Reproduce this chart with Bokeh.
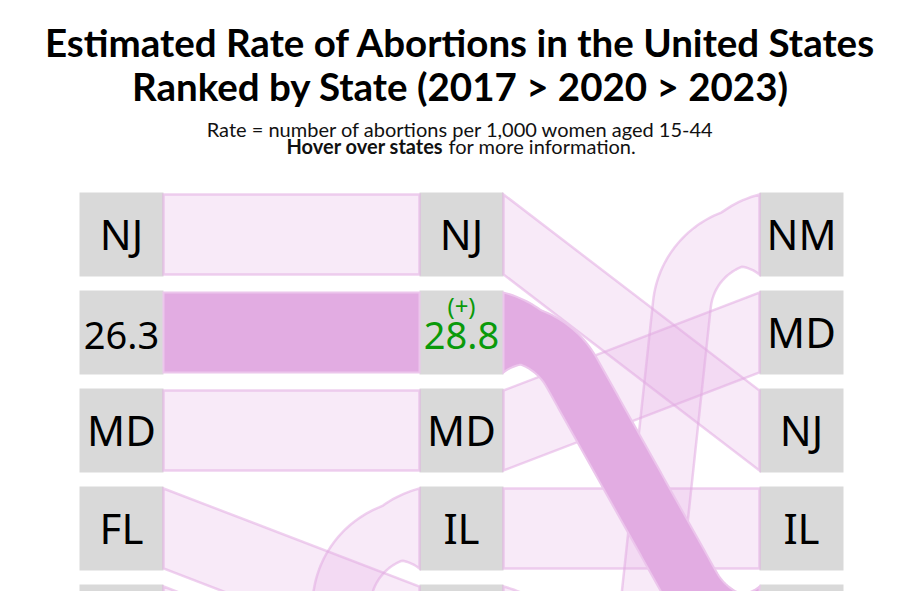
import math
import numpy as np
from bokeh.plotting import figure
from bokeh.models import ColumnDataSource, Range1d
from bokeh.embed import file_html
from bokeh.resources import INLINE
from bokeh.core.properties import value

# ---------------- data ----------------
years = ["2017", "2020", "2023"]
states = ["NJ", "NY", "MD", "FL", "CA", "IL", "NM"]
rank_2017 = [1, 2, 3, 4, 5, 11, 19]
rank_2020 = [1, 2, 3, 5, 6, 4, 12]
rank_2023 = [3, 5, 2, 9, 6, 4, 1]
highlight_state = "NY"
highlight_rates = [26.3, 28.8, 31.2]

title_lines = ["Estimated Rate of Abortions in the United States",
               "Ranked by State (2017 > 2020 > 2023)"]
subtitle = "Rate = number of abortions per 1,000 women aged 15-44"
hover_bold = "Hover over states"
hover_rest = "for more information."

# ---------------- layout ----------------
W, H = 919, 591
COL_LEFT = [79, 419, 759]
BOX_W = 84
BOX_H = 84
ROW0 = 234
PITCH = 98
HALF_END = 40
HALF_MID = 29
RADIUS = 78
TAPER = 28

LIGHT = "#e2ace2"
BOX = "#d9d9d9"
GREEN = "#0a9a0a"

ranks = [rank_2017, rank_2020, rank_2023]


def row_y(r):
    return ROW0 + PITCH * (r - 1)


def arc_pts(c, r, a1, a2, n=40):
    da = (a2 - a1 + math.pi) % (2 * math.pi) - math.pi
    return [c + r * np.array([math.cos(a1 + da * k / n), math.sin(a1 + da * k / n)])
            for k in range(n + 1)]


def centerline(xa, ya, xb, yb, R):
    sgn = 1 if yb > ya else -1          # +1: ribbon goes down the page
    c1 = np.array([xa, ya + sgn * R], float)
    c2 = np.array([xb, yb - sgn * R], float)
    m = (c1 + c2) / 2
    d = np.linalg.norm(c1 - m)
    alpha = math.asin(R / d)
    u = (c1 - m) / d
    tl = math.sqrt(d * d - R * R)
    best = None
    for s in (1, -1):
        ca, sa = math.cos(s * alpha), math.sin(s * alpha)
        v = np.array([u[0] * ca - u[1] * sa, u[0] * sa + u[1] * ca])
        t1 = m + v * tl
        if best is None or t1[0] > best[0]:
            best = t1
    t1 = best
    t2 = 2 * m - t1
    a_start = math.atan2(ya - c1[1], xa - c1[0])
    a_t1 = math.atan2(t1[1] - c1[1], t1[0] - c1[0])
    a_t2 = math.atan2(t2[1] - c2[1], t2[0] - c2[0])
    a_end = math.atan2(yb - c2[1], xb - c2[0])
    pts = arc_pts(c1, R, a_start, a_t1)
    seg = np.linalg.norm(t2 - t1)
    n = max(2, int(seg / 2))
    pts += [t1 + (t2 - t1) * k / n for k in range(1, n)]
    pts += arc_pts(c2, R, a_t2, a_end)
    return np.array(pts)


def ribbon(xa, ya, xb, yb):
    if abs(yb - ya) <= 2 * PITCH + 1:
        xs = [xa, xb, xb, xa]
        ys = [ya - HALF_END, yb - HALF_END, yb + HALF_END, ya + HALF_END]
        return xs, ys
    pts = centerline(xa, ya, xb, yb, RADIUS)
    d = np.gradient(pts, axis=0)
    d = d / np.linalg.norm(d, axis=1)[:, None]
    seglen = np.r_[0, np.cumsum(np.linalg.norm(np.diff(pts, axis=0), axis=1))]
    L = seglen[-1]
    u = np.minimum(seglen, L - seglen)
    h = HALF_MID + (HALF_END - HALF_MID) * np.clip(1 - u / TAPER, 0, 1)
    nrm = np.column_stack([-d[:, 1], d[:, 0]])
    left = pts + nrm * h[:, None]
    right = pts - nrm * h[:, None]
    left[0] = [xa, ya + np.sign(nrm[0, 1]) * HALF_END]
    right[0] = [xa, ya - np.sign(nrm[0, 1]) * HALF_END]
    left[-1] = [xb, yb + np.sign(nrm[-1, 1]) * HALF_END]
    right[-1] = [xb, yb - np.sign(nrm[-1, 1]) * HALF_END]
    poly = np.vstack([left, right[::-1]])
    return list(poly[:, 0]), list(poly[:, 1])


p = figure(width=W, height=H, x_range=Range1d(0, W), y_range=Range1d(H, 0),
           output_backend="svg", toolbar_location=None, min_border=0,
           x_axis_location=None, y_axis_location=None)
p.grid.visible = False
p.outline_line_color = None
p.background_fill_color = "white"

# boxes
bx, by = [], []
for j in range(3):
    for i in range(len(states)):
        bx.append(COL_LEFT[j] + BOX_W / 2)
        by.append(row_y(ranks[j][i]))
p.rect(x=bx, y=by, width=BOX_W, height=BOX_H, fill_color=BOX, line_color=None)

# ribbons
light_xs, light_ys, hi_xs, hi_ys = [], [], [], []
for j in range(2):
    xa = COL_LEFT[j] + BOX_W
    xb = COL_LEFT[j + 1]
    for i, s in enumerate(states):
        xs, ys = ribbon(xa, row_y(ranks[j][i]), xb, row_y(ranks[j + 1][i]))
        if s == highlight_state:
            hi_xs.append(xs); hi_ys.append(ys)
        else:
            light_xs.append(xs); light_ys.append(ys)

p.patches(xs=light_xs, ys=light_ys, fill_color=LIGHT, fill_alpha=0.25,
          line_color=LIGHT, line_alpha=0.55, line_width=2.5, line_join="miter")
p.patches(xs=hi_xs, ys=hi_ys, fill_color=LIGHT, fill_alpha=1.0,
          line_color="#ecc6ec", line_alpha=1.0, line_width=2, line_join="miter")

# labels (only rows that fit in the visible page)
name_src = dict(x=[], y=[], text=[])
val_src = dict(x=[], y=[], text=[], color=[])
chg_src = dict(x=[], y=[], text=[], color=[])
for j in range(3):
    cx = COL_LEFT[j] + BOX_W / 2
    for i, s in enumerate(states):
        cy = row_y(ranks[j][i])
        if cy + 20 > H:
            continue
        if s == highlight_state:
            rate = highlight_rates[j]
            col = "black"
            if j > 0:
                up = rate > highlight_rates[j - 1]
                col = GREEN if up else "#c00000"
                chg_src["x"].append(cx); chg_src["y"].append(cy - 27)
                chg_src["text"].append("(+)" if up else "(-)"); chg_src["color"].append(col)
            val_src["x"].append(cx); val_src["y"].append(cy + 3)
            val_src["text"].append(f"{rate:.1f}"); val_src["color"].append(col)
        else:
            name_src["x"].append(cx); name_src["y"].append(cy - 1)
            name_src["text"].append(s)

p.text(x="x", y="y", text="text", source=ColumnDataSource(name_src),
       text_font=value("Noto Sans"), text_font_size="42px", text_color="black",
       text_align="center", text_baseline="middle")
p.text(x="x", y="y", text="text", text_color="color", source=ColumnDataSource(val_src),
       text_font=value("Noto Sans"), text_font_size="38px",
       text_align="center", text_baseline="middle")
p.text(x="x", y="y", text="text", text_color="color", source=ColumnDataSource(chg_src),
       text_font=value("Noto Sans"), text_font_size="24px",
       text_align="center", text_baseline="middle")

# titles
CX = 460
p.text(x=[CX, CX], y=[41, 85], text=title_lines, text_font=value("Lato"),
       text_font_size="38.5px", text_font_style="bold", text_color="black",
       text_align="center", text_baseline="middle")
p.text(x=[CX], y=[128], text=[subtitle], text_font=value("Lato"),
       text_font_size="20px", text_color="#111111",
       text_align="center", text_baseline="middle")
p.text(x=[443], y=[145], text=[hover_bold], text_font=value("Lato"),
       text_font_size="20px", text_font_style="bold", text_color="#111111",
       text_align="right", text_baseline="middle")
p.text(x=[448], y=[145], text=[hover_rest], text_font=value("Lato"),
       text_font_size="20px", text_color="#111111",
       text_align="left", text_baseline="middle")

open("out.html", "w").write(file_html(p, INLINE))
